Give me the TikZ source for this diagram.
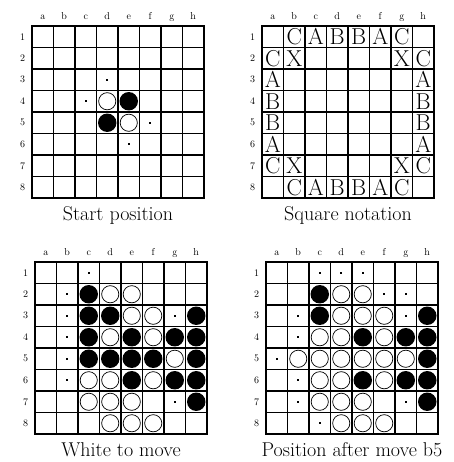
\documentclass[tikz,border=0pt]{standalone}
\usepackage{fontspec}
\tikzset{
  boardline/.style={line width=1.9pt,line cap=rect},
  blackstone/.style={fill=black},
  whitestone/.style={draw=black,line width=0.7pt,fill=white},
  legalmove/.style={fill=black},
  filelabel/.style={font=\fontsize{10}{12}\selectfont,inner sep=0pt},
  sqletter/.style={font=\fontsize{23}{23}\selectfont,inner sep=0pt},
  boardcaption/.style={font=\fontsize{20}{22}\selectfont\addfontfeatures{LetterSpace=6},inner sep=0pt,anchor=base}
}
\newcommand{\othgrid}[1]{%
  \draw[boardline] (0,0) rectangle (8,-8);
  \foreach \i in {1,...,7} {
    \draw[boardline] (\i,0) -- (\i,-8);
    \draw[boardline] (0,-\i) -- (8,-\i);
  }
  \foreach \f [count=\i] in {a,b,c,d,e,f,g,h}
    \node[filelabel,anchor=base] (#1-file-\f) at (\i-0.5,0.3) {\f};
  \foreach \i in {1,...,8}
    \node[filelabel] (#1-rank-\i) at (-0.44,0.5-\i) {\i};
}
\newcommand{\blackstones}[1]{\foreach \c/\r in {#1} \fill[blackstone] (\c-0.5,0.5-\r) circle (0.43);}
\newcommand{\whitestones}[1]{\foreach \c/\r in {#1} \draw[whitestone] (\c-0.5,0.5-\r) circle (0.40);}
\newcommand{\legaldots}[1]{\foreach \c/\r in {#1} \fill[legalmove] (\c-0.55,0.45-\r) rectangle ++(0.1,0.1);}

\begin{document}
\begin{tikzpicture}[x=21.5pt,y=21.5pt]
\useasboundingbox (0pt,0pt) rectangle (453pt,-462pt);

\begin{scope}[shift={(32pt,-26pt)}]
\othgrid{start}
\blackstones{5/4,4/5}
\whitestones{4/4,5/5}
\legaldots{4/3,3/4,6/5,5/6}
\node[boardcaption] (startcap) at (4,-9.05) {Start position};
\end{scope}

\begin{scope}[shift={(262pt,-26pt)}]
\othgrid{notation}
\foreach \c/\r/\l in {2/1/C,3/1/A,4/1/B,5/1/B,6/1/A,7/1/C,
    1/2/C,2/2/X,7/2/X,8/2/C,1/3/A,8/3/A,1/4/B,8/4/B,
    1/5/B,8/5/B,1/6/A,8/6/A,1/7/C,2/7/X,7/7/X,8/7/C,
    2/8/C,3/8/A,4/8/B,5/8/B,6/8/A,7/8/C}
  \node[sqletter] (sq-\c-\r) at (\c-0.5,0.5-\r) {\l};
\node[boardcaption] (notationcap) at (4,-9.05) {Square notation};
\end{scope}

\begin{scope}[shift={(35pt,-262pt)}]
\othgrid{white}
\blackstones{3/2,3/3,4/3,8/3,3/4,5/4,7/4,8/4,3/5,4/5,5/5,6/5,8/5,5/6,7/6,8/6,8/7}
\whitestones{4/2,5/2,5/3,6/3,4/4,6/4,7/5,3/6,4/6,6/6,3/7,4/7,5/7,4/8,5/8,6/8}
\legaldots{3/1,2/2,2/3,7/3,2/4,2/5,2/6,7/7}
\node[boardcaption] (whitecap) at (4,-9.05) {White to move};
\end{scope}

\begin{scope}[shift={(266pt,-262pt)}]
\othgrid{after}
\blackstones{3/2,3/3,8/3,5/4,7/4,8/4,8/5,5/6,7/6,8/6,8/7}
\whitestones{4/2,5/2,4/3,5/3,6/3,3/4,4/4,6/4,2/5,3/5,4/5,5/5,6/5,7/5,3/6,4/6,6/6,3/7,4/7,5/7,4/8,5/8,6/8}
\legaldots{3/1,4/1,5/1,6/2,7/2,2/3,7/3,2/4,1/5,2/6,2/7,7/7,3/8}
\node[boardcaption] (aftercap) at (4,-9.05) {Position after move b5};
\end{scope}
\end{tikzpicture}
\end{document}
